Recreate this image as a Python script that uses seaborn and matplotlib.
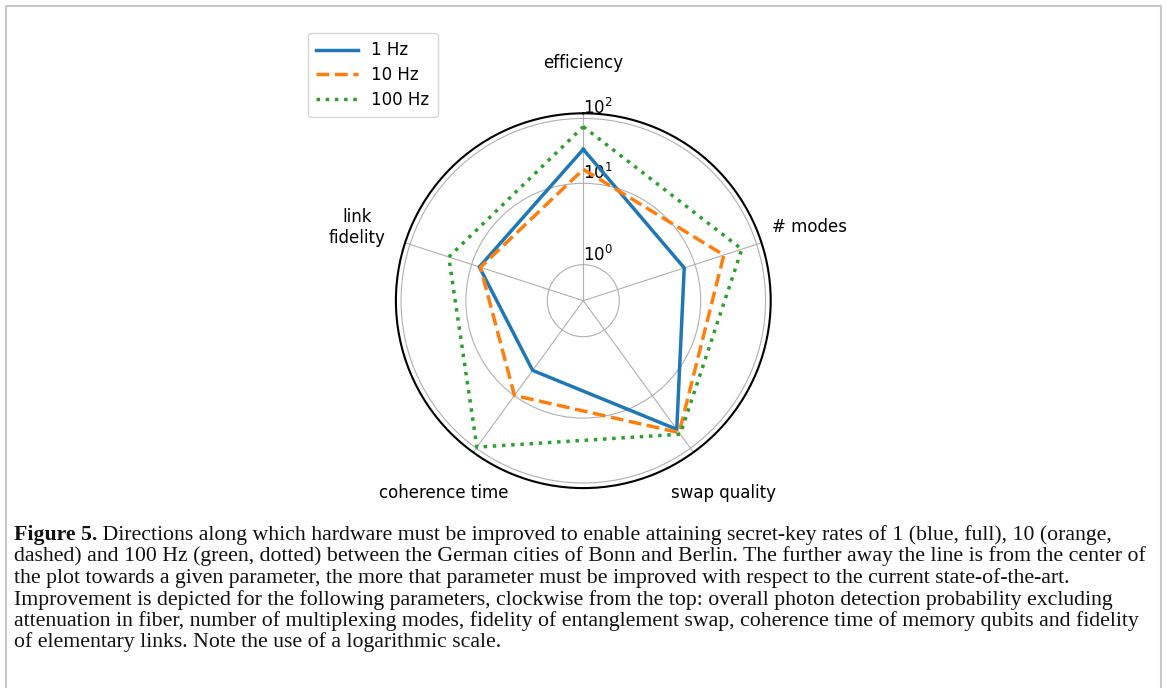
import numpy as np
import matplotlib.pyplot as plt
import seaborn as sns

# ---------------------------------------------------------
# data (improvement factor per parameter)
# ---------------------------------------------------------
params = ["efficiency", "# modes", "swap quality", "coherence time", "link\nfidelity"]
series_labels = ["1 Hz", "10 Hz", "100 Hz"]
rate_1hz = [33.4, 6.7, 43.8, 3.3, 7.5]
rate_10hz = [16.4, 29.4, 50.5, 9.9, 7.2]
rate_100hz = [74.6, 57.5, 54.2, 95.6, 23.5]
r_ticks = [1, 10, 100]
r_tick_labels = [r"$10^0$", r"$10^1$", r"$10^2$"]

caption_bold = "Figure 5."
caption_lines = [
    " Directions along which hardware must be improved to enable attaining secret-key rates of 1 (blue, full), 10 (orange,",
    "dashed) and 100 Hz (green, dotted) between the German cities of Bonn and Berlin. The further away the line is from the center of",
    "the plot towards a given parameter, the more that parameter must be improved with respect to the current state-of-the-art.",
    "Improvement is depicted for the following parameters, clockwise from the top: overall photon detection probability excluding",
    "attenuation in fiber, number of multiplexing modes, fidelity of entanglement swap, coherence time of memory qubits and fidelity",
    "of elementary links. Note the use of a logarithmic scale.",
]

W, H = 1166, 688
fig = plt.figure(figsize=(W / 100, H / 100), dpi=100)

# polar axes: centre (583, 301) px, radius ~187 px
cx, cy, R = 583.3, 300.7, 187.4
ax = fig.add_axes([(cx - R) / W, 1 - (cy + R) / H, 2 * R / W, 2 * R / H], projection="polar")
ax.set_theta_zero_location("N")
ax.set_theta_direction(-1)

angles = np.linspace(0, 2 * np.pi, len(params), endpoint=False)
theta = np.append(angles, 2 * np.pi)

styles = [("#1f77b4", "-"), ("#ff7f0e", "--"), ("#2ca02c", ":")]
for vals, lab, (col, ls) in zip([rate_1hz, rate_10hz, rate_100hz], series_labels, styles):
    r = np.append(vals, vals[0])
    sns.lineplot(x=theta, y=r, ax=ax, sort=False, estimator=None,
                 color=col, linestyle=ls, lw=2.5, label=lab)

ax.set_rscale("symlog")
ax.set_ylim(0, 120)
ax.set_yticks(r_ticks)
ax.set_yticklabels(r_tick_labels, fontsize=12)
ax.set_rlabel_position(0)
ax.set_xticks(angles)
ax.set_xticklabels(params, fontsize=12)
ax.tick_params(axis="x", pad=26)
ax.set_xlabel("")
ax.set_ylabel("")
ax.grid(True, color="#b0b0b0", lw=0.8)
ax.spines["polar"].set_linewidth(1.5)

ax.legend(loc="upper left", bbox_to_anchor=(308 / W, 1 - 33 / H),
          bbox_transform=fig.transFigure, borderaxespad=0, fontsize=12,
          handlelength=2.5, borderpad=0.5, labelspacing=0.4)

# light grey frame around the figure (open at the bottom)
x0, x1, yt = 5.5 / W, 1161 / W, 1 - 5.5 / H
fig.add_artist(plt.Line2D([x0, x0, x1, x1], [-0.05, yt, yt, -0.05],
                          transform=fig.transFigure, color="#c8c8c8", lw=1.5))

# caption, sized so the longest line nearly fits the frame
renderer = fig.canvas.get_renderer()
cap_font = "Liberation Serif"
probe = fig.text(0, 0, caption_lines[1], family=cap_font, size=13)
w = probe.get_window_extent(renderer).width
probe.remove()
cap_size = 13 * 1125 / w

left = 14 / W
for i, line in enumerate(caption_lines):
    yb = 1 - (540 + 21.5 * i) / H
    x = left
    if i == 0:
        tb = fig.text(x, yb, caption_bold, family=cap_font, size=cap_size,
                      weight="bold", va="baseline", color="#111111")
        x += tb.get_window_extent(renderer).width / W
    fig.text(x, yb, line, family=cap_font, size=cap_size, va="baseline", color="#111111")

fig.savefig("out.png", dpi=100)
